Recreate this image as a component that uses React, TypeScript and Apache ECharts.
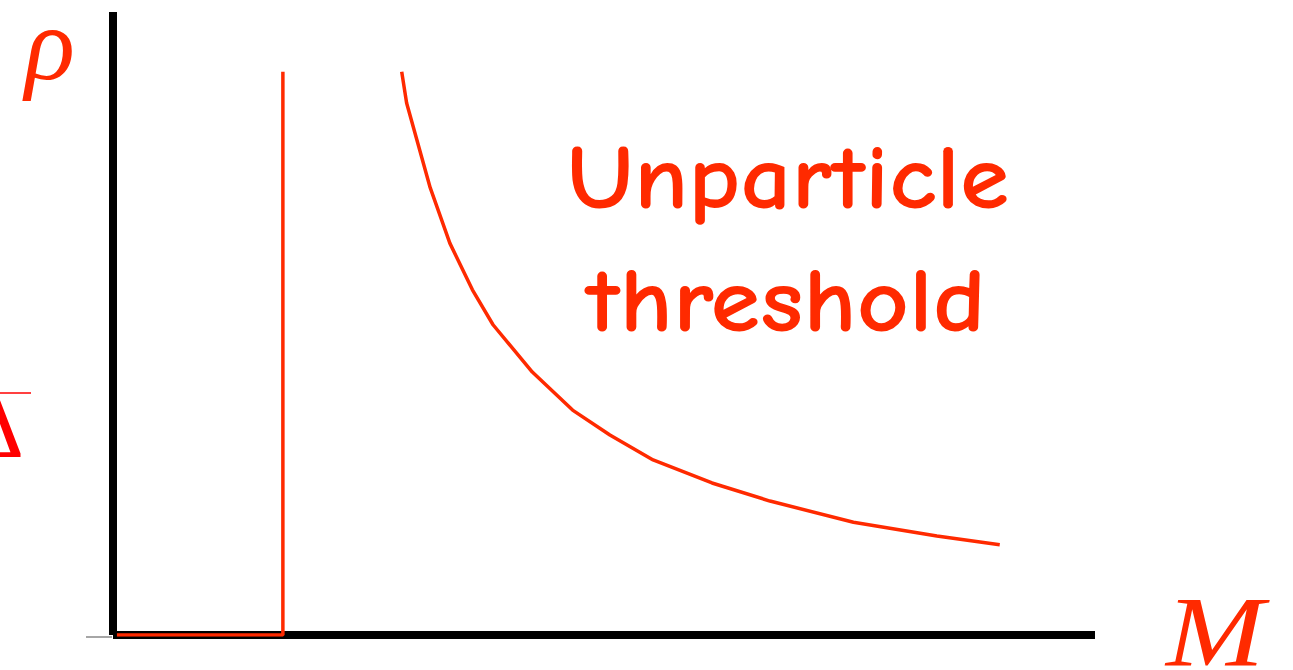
import React, { useEffect, useRef } from "react";
import * as echarts from "echarts";

// Mass M (x) vs spectral density rho (y), arbitrary units 0..10
const stepX = [0.04, 1.73, 1.73];
const stepY = [0, 0, 9.04];

const curveX = [2.94, 2.99, 3.23, 3.43, 3.66, 3.87, 4.27, 4.68, 5.06, 5.5, 6.1, 6.69, 7.54, 8.39, 9.03];
const curveY = [9.04, 8.54, 7.18, 6.29, 5.54, 4.98, 4.22, 3.61, 3.21, 2.81, 2.44, 2.15, 1.81, 1.59, 1.45];

const labelLines = ["Unparticle", "threshold"];
const yLabel = "ρ";
const xLabel = "M";
const sideLabel = "Δ";

const RED = "#ff2a00";

export default function App() {
  const ref = useRef<HTMLDivElement>(null);

  useEffect(() => {
    if (!ref.current) return;
    const chart = echarts.init(ref.current, null, { renderer: "svg" });
    const stepData = stepX.map((x, i) => [x, stepY[i]]);
    const curveData = curveX.map((x, i) => [x, curveY[i]]);
    const textFont = 'bold 92px "Comic Sans MS", "Comic Neue", Lato, "Noto Sans", sans-serif';
    chart.setOption({
      animation: false,
      backgroundColor: "#ffffff",
      grid: { left: 113, right: 198, top: 12, bottom: 35 },
      xAxis: {
        type: "value",
        min: 0,
        max: 10,
        axisLine: { show: true, lineStyle: { color: "#000", width: 8, cap: "butt" } },
        axisTick: { show: false },
        axisLabel: { show: false },
        splitLine: { show: false },
      },
      yAxis: {
        type: "value",
        min: 0,
        max: 10,
        axisLine: { show: true, lineStyle: { color: "#000", width: 8, cap: "butt" } },
        axisTick: { show: false },
        axisLabel: { show: false },
        splitLine: { show: false },
      },
      series: [
        {
          type: "line",
          data: stepData,
          showSymbol: false,
          symbol: "none",
          lineStyle: { color: RED, width: 3.5 },
          z: 5,
        },
        {
          type: "line",
          data: curveData,
          showSymbol: false,
          symbol: "none",
          lineStyle: { color: RED, width: 3.5 },
          z: 5,
        },
      ],
      graphic: [
        {
          type: "line",
          shape: { x1: 86, y1: 637, x2: 112, y2: 637 },
          style: { stroke: "#888", lineWidth: 1.5 },
        },
        {
          type: "line",
          shape: { x1: 0, y1: 393, x2: 31, y2: 393 },
          style: { stroke: "#ff0000", lineWidth: 1.5 },
        },
        {
          type: "text",
          x: 788,
          y: 178,
          scaleX: 1.09,
          style: { text: labelLines[0], font: textFont, fill: RED, textAlign: "center", textVerticalAlign: "middle" },
        },
        {
          type: "text",
          x: 786,
          y: 301,
          scaleX: 1.1,
          style: { text: labelLines[1], font: textFont, fill: RED, textAlign: "center", textVerticalAlign: "middle" },
        },
        {
          type: "text",
          x: 25,
          y: 43,
          style: { text: yLabel, font: 'italic 104px "Liberation Serif", serif', lineHeight: 80, fill: RED, textAlign: "left", textVerticalAlign: "middle" },
        },
        {
          type: "text",
          x: 1166,
          y: 632,
          scaleX: 1.18,
          style: { text: xLabel, font: 'italic 100px "Liberation Serif", serif', lineHeight: 68, fill: RED, textAlign: "left", textVerticalAlign: "middle" },
        },
        {
          type: "text",
          x: 24,
          y: 426,
          style: { text: sideLabel, font: '90px "Liberation Serif", serif', fill: "#ff0000", textAlign: "right", textVerticalAlign: "middle" },
        },
      ],
    });
    return () => chart.dispose();
  }, []);

  return (
    <div
      ref={ref}
      style={{ position: "fixed", left: 0, top: 0, width: 1293, height: 670 }}
    />
  );
}
